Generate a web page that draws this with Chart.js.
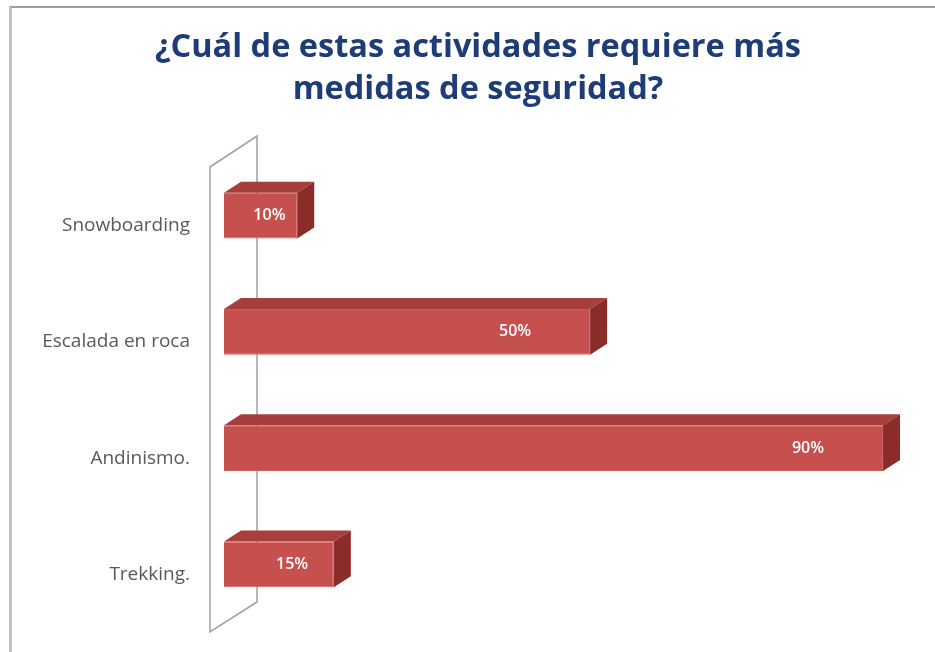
<!DOCTYPE html>
<html>
<head>
<meta charset="utf-8">
<script src="https://cdn.jsdelivr.net/npm/chart.js@4"></script>
<style>
  html, body { margin: 0; padding: 0; background: #fff; overflow: hidden; }
  #frame { position: absolute; left: 9px; top: 6px; width: 923px; height: 644px;
           border-top: 2px solid #9c9c9c; border-left: 3px solid #c4c4c4; }
  #wrap { position: absolute; left: 0; top: 0; width: 935px; height: 652px; }
</style>
</head>
<body>
<div id="frame"></div>
<div id="wrap"><canvas id="chart"></canvas></div>
<script>
var chartTitle = ['¿Cuál de estas actividades requiere más', 'medidas de seguridad?'];
var categories = ['Snowboarding', 'Escalada en roca', 'Andinismo.', 'Trekking.'];
var values = [10, 50, 90, 15];
var valueLabels = ['10%', '50%', '90%', '15%'];

// title sits a bit right of the canvas centre, so it is drawn here
var titlePlugin = {
  id: 'titlePlugin',
  afterDraw: function (chart) {
    var ctx = chart.ctx;
    ctx.save();
    ctx.fillStyle = '#1d3c78';
    ctx.font = 'bold 32.5px "Open Sans"';
    ctx.textAlign = 'center';
    ctx.textBaseline = 'middle';
    chartTitle.forEach(function (line, i) {
      ctx.fillText(line, 478, 48 + i * 42);
    });
    ctx.restore();
  }
};

// fake 3d: top + side faces on each bar, plus the wall outline
var bars3d = {
  id: 'bars3d',
  beforeDatasetsDraw: function (chart) {
    var ctx = chart.ctx, a = chart.chartArea;
    ctx.save();
    ctx.strokeStyle = '#a0a0a0';
    ctx.lineWidth = 1.5;
    ctx.beginPath();
    ctx.moveTo(a.left - 14, a.top + 9.5);
    ctx.lineTo(a.left + 33, a.top - 21.5);
    ctx.lineTo(a.left + 33, a.bottom - 20.5);
    ctx.lineTo(a.left - 14, a.bottom + 9.5);
    ctx.closePath();
    ctx.stroke();
    ctx.restore();
  },
  afterDatasetsDraw: function (chart) {
    var ctx = chart.ctx;
    var dx = 17, dy = -11;
    var meta = chart.getDatasetMeta(0);
    ctx.save();
    meta.data.forEach(function (bar, i) {
      var x0 = bar.base, x1 = bar.x;
      var y0 = bar.y - bar.height / 2, y1 = bar.y + bar.height / 2;
      // top face
      ctx.fillStyle = '#a63f3c';
      ctx.beginPath();
      ctx.moveTo(x0, y0);
      ctx.lineTo(x0 + dx, y0 + dy);
      ctx.lineTo(x1 + dx, y0 + dy);
      ctx.lineTo(x1, y0);
      ctx.closePath();
      ctx.fill();
      // side face
      ctx.fillStyle = '#892c2a';
      ctx.beginPath();
      ctx.moveTo(x1, y0);
      ctx.lineTo(x1 + dx, y0 + dy);
      ctx.lineTo(x1 + dx, y1 + dy);
      ctx.lineTo(x1, y1);
      ctx.closePath();
      ctx.fill();
      // value label
      var w = x1 - x0;
      ctx.fillStyle = '#ffffff';
      ctx.font = '600 16px "Open Sans"';
      ctx.textAlign = 'center';
      ctx.textBaseline = 'middle';
      ctx.fillText(valueLabels[i], x1 - Math.min(75, w * 0.38), bar.y);
    });
    ctx.restore();
  }
};

new Chart(document.getElementById('chart').getContext('2d'), {
  type: 'bar',
  data: {
    labels: categories,
    datasets: [{
      data: values,
      backgroundColor: '#c6504d',
      borderColor: '#cf5d5a',
      borderWidth: 1,
      barPercentage: 0.79,
      categoryPercentage: 0.5
    }]
  },
  plugins: [bars3d, titlePlugin],
  options: {
    indexAxis: 'y',
    responsive: true,
    maintainAspectRatio: false,
    animation: false,
    layout: { padding: { top: 157.5, right: 30, bottom: 29.5, left: 0 } },
    plugins: {
      legend: { display: false },
      tooltip: { enabled: false },
      title: { display: false }
    },
    scales: {
      x: { display: false, min: 0, max: 93 },
      y: {
        grid: { display: false, drawTicks: false },
        border: { display: false },
        ticks: { color: '#595959', font: { family: 'Open Sans', size: 19 }, padding: 34, labelOffset: 10 },
        afterFit: function (scale) {
          scale.width = 224;
          scale.paddingTop = 0;
          scale.paddingBottom = 0;
        }
      }
    }
  }
});
</script>
</body>
</html>
